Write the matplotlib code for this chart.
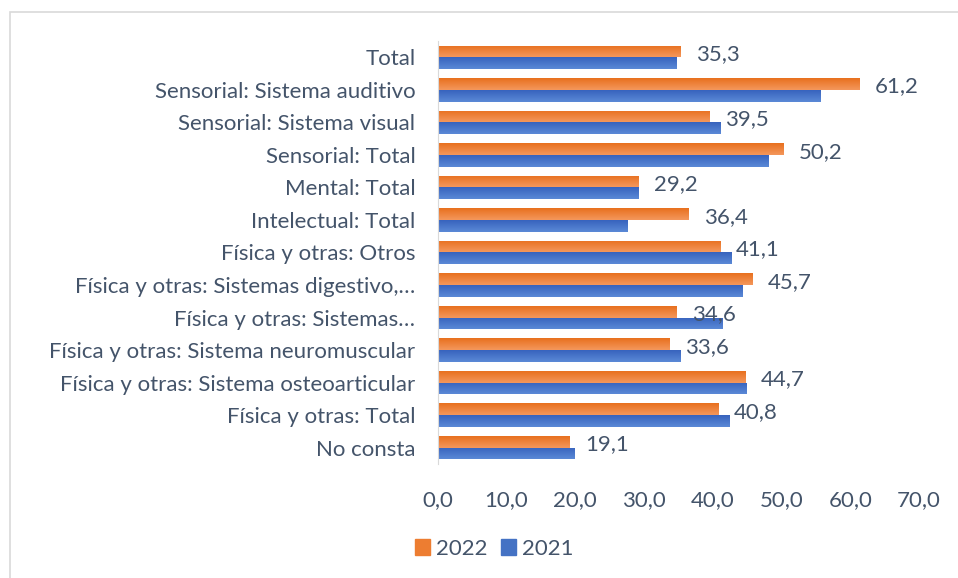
import numpy as np
import matplotlib.pyplot as plt
from matplotlib.colors import LinearSegmentedColormap
from matplotlib.patches import Rectangle, Patch

categorias = ['Total', 'Sensorial: Sistema auditivo', 'Sensorial: Sistema visual',
              'Sensorial: Total', 'Mental: Total', 'Intelectual: Total',
              'Física y otras: Otros', 'Física y otras: Sistemas digestivo,…',
              'Física y otras: Sistemas…', 'Física y otras: Sistema neuromuscular',
              'Física y otras: Sistema osteoarticular', 'Física y otras: Total',
              'No consta']
v2022 = [35.3, 61.2, 39.5, 50.2, 29.2, 36.4, 41.1, 45.7, 34.6, 33.6, 44.7, 40.8, 19.1]
v2021 = [34.6, 55.6, 41.0, 48.1, 29.1, 27.6, 42.7, 44.3, 41.4, 35.3, 44.9, 42.3, 19.9]
ticks = [0, 10, 20, 30, 40, 50, 60, 70]

texto = '#44546A'
fs = 16
plt.rcParams['font.family'] = ['Lato', 'DejaVu Sans']

fig = plt.figure(figsize=(9.58, 5.78), dpi=100)
ax = fig.add_axes([437.5 / 958, 1 - 464 / 578, 481.6 / 958, 423 / 578])

# borde del gráfico
fig.patches.append(Rectangle((10 / 958, -0.1), 1.1, (578 - 12) / 578 + 0.1,
                             transform=fig.transFigure, fill=False,
                             edgecolor='#D9D9D9', linewidth=1.2))

y = np.arange(len(categorias))
h = 0.36
naranja = LinearSegmentedColormap.from_list('n', ['#E8701E', '#F4975C'])
azul = LinearSegmentedColormap.from_list('a', ['#3763BE', '#5B89D6'])
grad = np.linspace(0, 1, 50).reshape(-1, 1)

b1 = ax.barh(y - h / 2, v2022, height=h, color='#ED7D31', label='2022')
b2 = ax.barh(y + h / 2, v2021, height=h, color='#4472C4', label='2021')
for barras, cmap in ((b1, naranja), (b2, azul)):
    for r in barras:
        x0, y0 = r.get_x(), r.get_y()
        w, hh = r.get_width(), r.get_height()
        im = ax.imshow(grad, cmap=cmap, aspect='auto', origin='lower',
                       extent=[x0, x0 + w, y0, y0 + hh], zorder=2)
        im.set_clip_path(r)

for yi, v in zip(y, v2022):
    ax.annotate(f'{v:.1f}'.replace('.', ','), (v, yi - h / 2 + 0.08),
                xytext=(11.5, 0), textcoords='offset points',
                va='center', ha='left', fontsize=fs, color=texto)

ax.set_xlim(0, 70)
ax.set_ylim(len(categorias) - 0.5, -0.5)
ax.set_xticks(ticks)
ax.set_xticklabels([f'{t:.1f}'.replace('.', ',') for t in ticks])
ax.set_yticks(y)
ax.set_yticklabels(categorias)
ax.tick_params(axis='both', length=0, labelsize=fs, labelcolor=texto)
ax.tick_params(axis='y', pad=16)
ax.tick_params(axis='x', pad=19)
for s in ['top', 'right', 'bottom']:
    ax.spines[s].set_visible(False)
ax.spines['left'].set_color('#D9D9D9')

ax.legend(handles=[Patch(color='#ED7D31', label='2022'), Patch(color='#4472C4', label='2021')],
          loc='center', bbox_to_anchor=(494 / 958, 1 - 549 / 578),
          bbox_transform=fig.transFigure, ncol=2, frameon=False,
          fontsize=fs, labelcolor=texto, handlelength=0.7, handleheight=0.7,
          handletextpad=0.25, columnspacing=0.6)

fig.savefig('out.png', dpi=100)
